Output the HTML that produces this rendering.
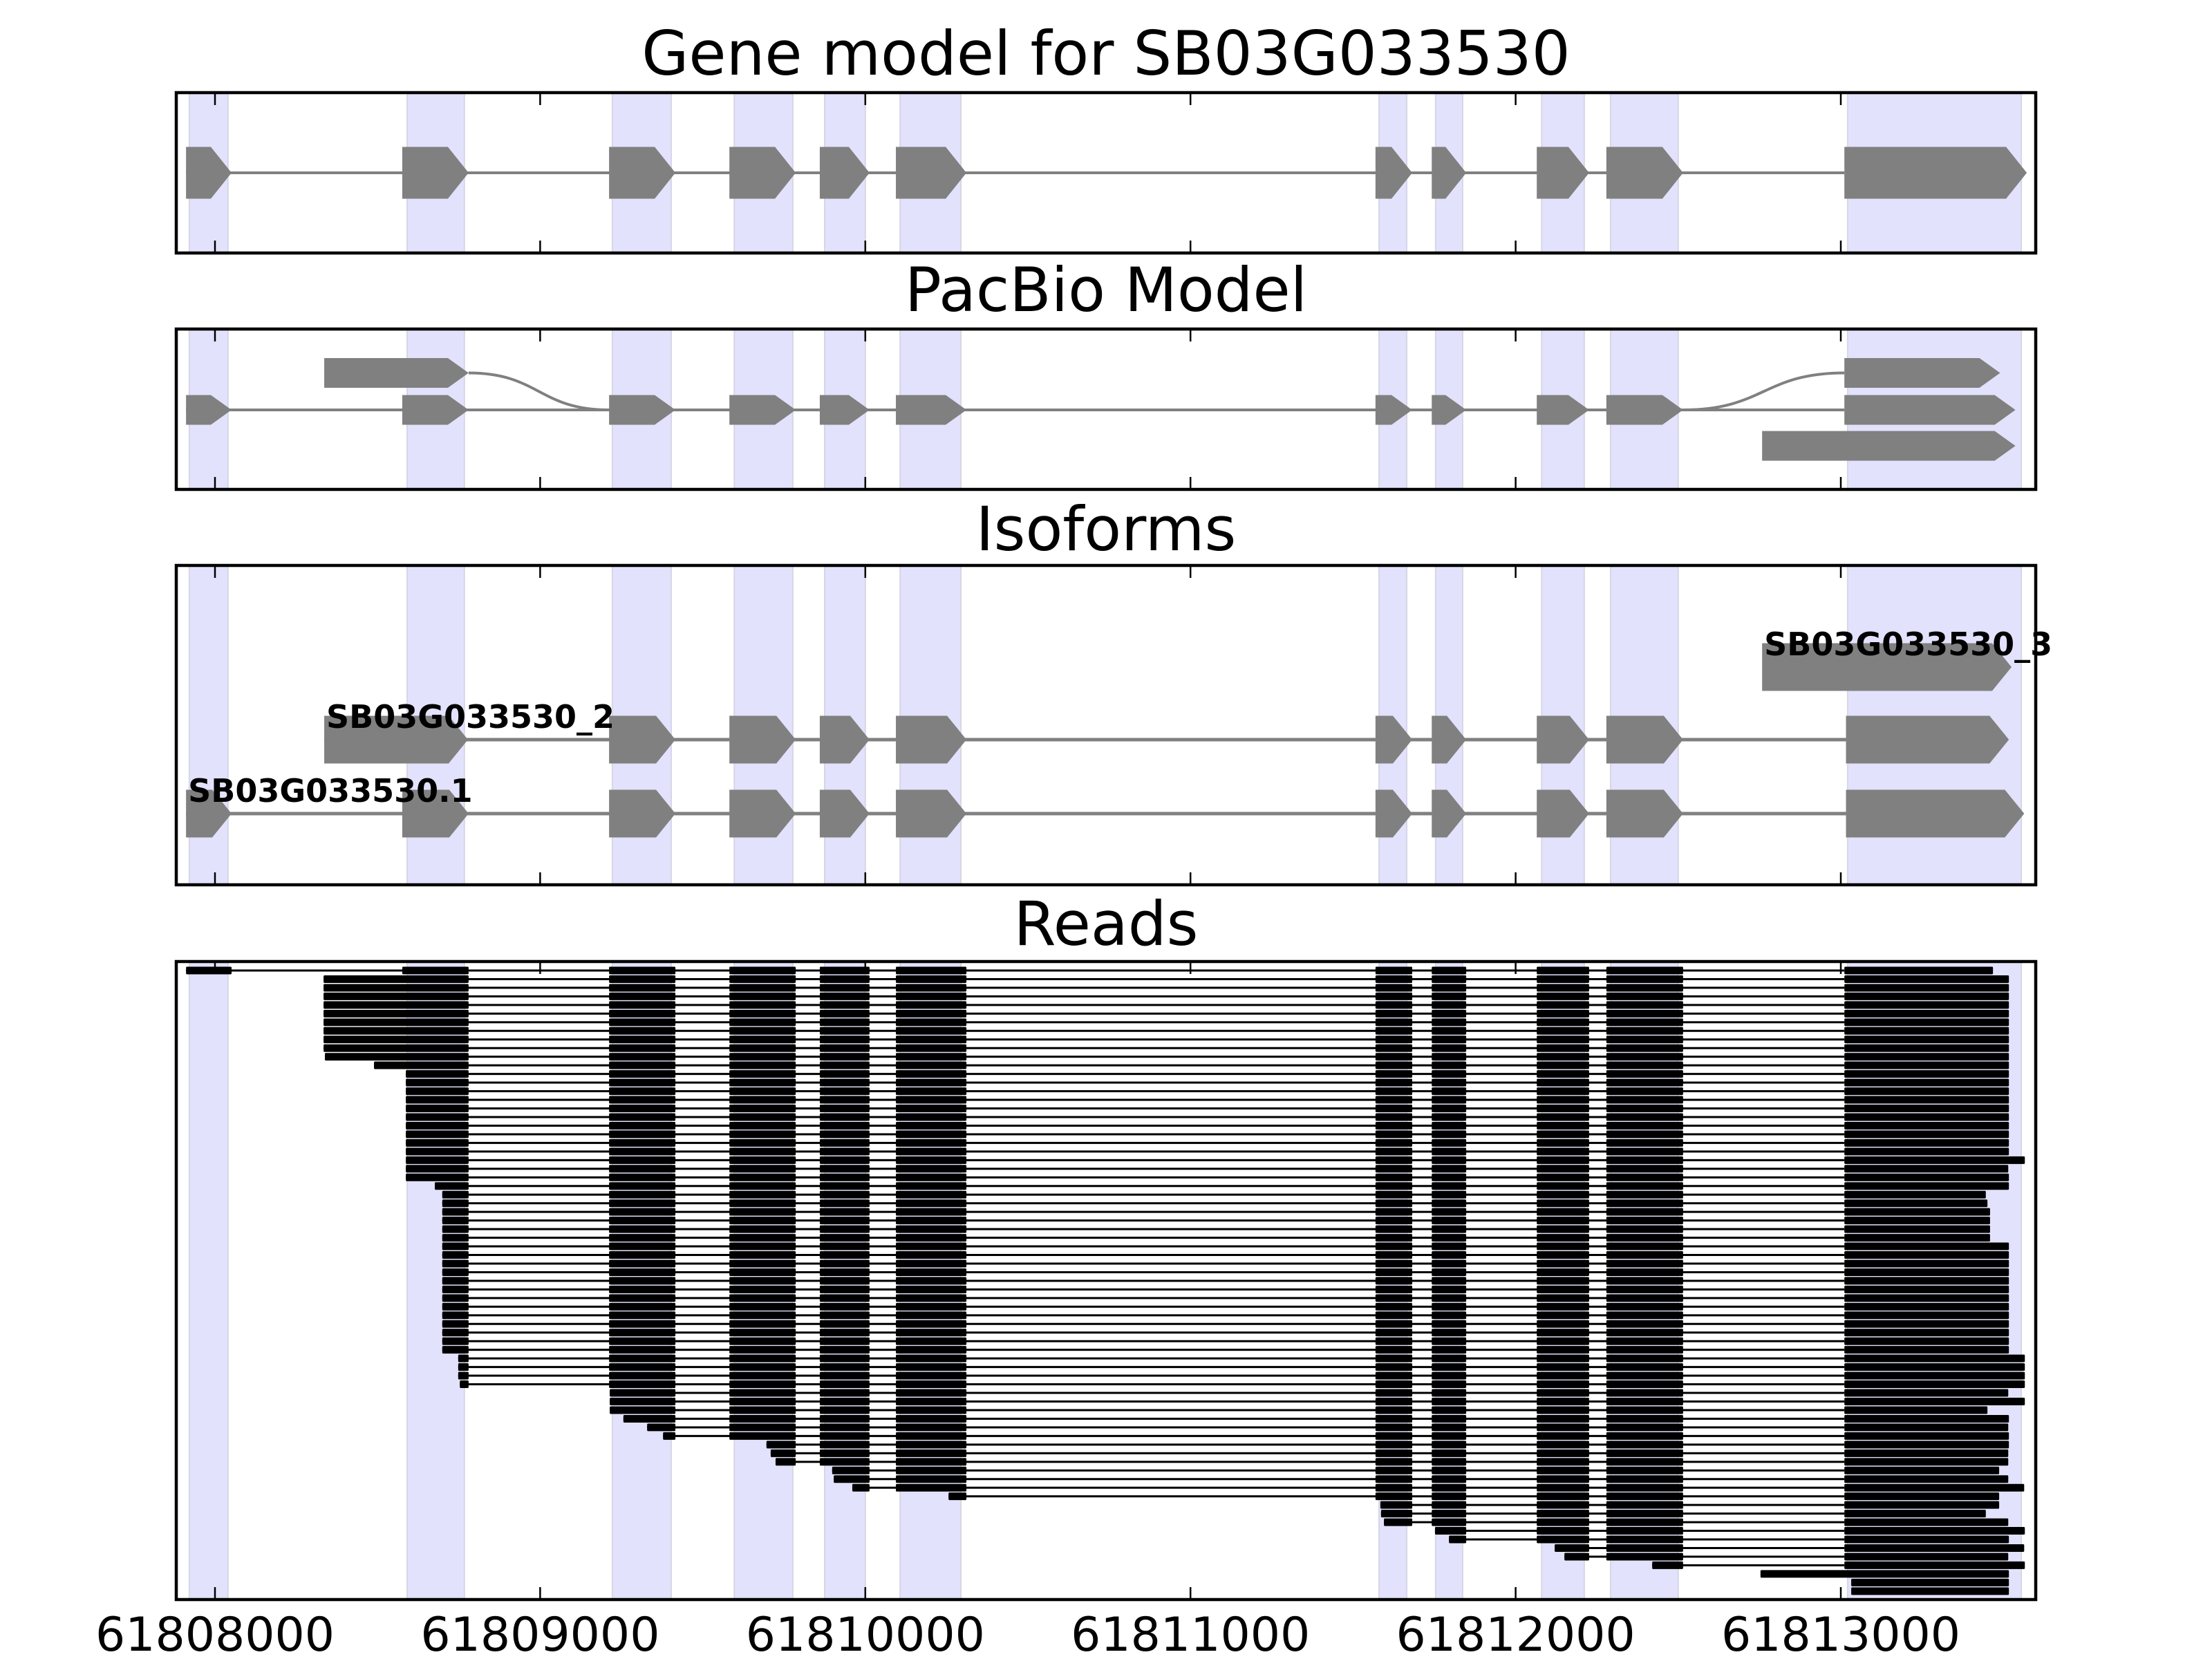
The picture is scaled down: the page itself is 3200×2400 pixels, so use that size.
<!DOCTYPE html>
<html><head><meta charset="utf-8"><style>
html,body{margin:0;padding:0;background:#fff;}
svg{display:block;}
</style></head><body>
<svg id="chart" xmlns="http://www.w3.org/2000/svg" width="3200" height="2400" viewBox="0 0 3200 2400" font-family="'DejaVu Sans','Liberation Sans',sans-serif">
<rect x="0" y="0" width="3200" height="2400" fill="#fff"/>
</svg>
<script>
// ---- data (genomic coordinates, bp) ----
const tickValues = [61808000, 61809000, 61810000, 61811000, 61812000, 61813000];
const tickLabels = ["61808000","61809000","61810000","61811000","61812000","61813000"];
const exonStarts = [61807911,61808576,61809212,61809582,61809860,61810094,61811569,61811742,61812065,61812279,61813011];
const exonEnds   = [61808051,61808780,61809416,61809786,61810013,61810311,61811682,61811848,61812226,61812515,61813572];
const bandStarts = [61807921,61808591,61809222,61809597,61809875,61810107,61811580,61811754,61812080,61812292,61813021];
const bandEnds   = [61808040,61808767,61809403,61809777,61810000,61810294,61811665,61811837,61812211,61812500,61813555];
// PacBio model
const pbTopStart = 61808336, pbTopEnd = 61808780;
const pbMidLastEnd = 61813537, pbTopRightEnd = 61813490;
const pbBotStart = 61812758, pbBotEnd = 61813537;
// Isoforms
const isoNames = ["SB03G033530.1","SB03G033530_2","SB03G033530_3"];
const iso1Starts = [61807911,61808576,61809212,61809582,61809860,61810094,61811569,61811742,61812065,61812279,61813016];
const iso1Ends   = [61808051,61808780,61809416,61809786,61810013,61810311,61811682,61811848,61812226,61812515,61813564];
const iso2Starts = [61808336,61809212,61809582,61809860,61810094,61811569,61811742,61812065,61812279,61813016];
const iso2Ends   = [61808778,61809416,61809786,61810013,61810311,61811682,61811848,61812226,61812515,61813517];
const iso3Starts = [61812758];
const iso3Ends   = [61813525];
// Reads
const readStarts = [61807911,
 61808334,61808334,61808334,61808334,61808334,61808334,61808334,61808334,61808334,61808338,
 61808489,
 61808587,61808587,61808587,61808587,61808587,61808587,61808587,61808587,61808587,61808587,61808587,61808587,61808587,
 61808676,
 61808699,61808699,61808699,61808699,61808699,61808699,61808699,61808699,61808699,61808699,61808699,61808699,61808699,61808699,61808699,61808699,61808699,61808699,61808699,
 61808748,61808748,61808748,61808753,
 61809214,61809214,61809214,61809256,61809329,61809378,
 61809696,61809709,61809724,
 61809898,61809903,61809960,
 61810256,
 61811584,61811586,61811595,
 61811752,61811795,
 61812120,61812150,
 61812420,
 61812753,
 61813032,61813032];
const readEnds = [61813468,
 61813517,61813517,61813517,61813517,61813517,61813517,61813517,61813517,61813517,61813517,
 61813517,61813517,61813517,61813517,61813517,61813517,61813517,61813517,61813517,61813517,61813517,
 61813566,61813515,61813517,61813517,
 61813446,61813451,61813459,61813459,61813459,61813459,
 61813517,61813517,61813517,61813517,61813517,61813517,61813517,61813517,61813517,61813517,61813517,61813517,61813517,
 61813566,61813566,61813566,61813566,
 61813515,61813566,61813451,61813517,61813515,61813517,61813517,61813515,61813515,61813487,61813515,61813564,
 61813487,61813487,61813446,61813515,61813566,61813517,61813564,61813515,61813566,61813517,61813517,61813517];

// ---- scales ----
const NS = "http://www.w3.org/2000/svg";
const svg = document.getElementById("chart");
const X0 = 311, BP0 = 61808000, K = 0.4704;
function xs(bp){ return X0 + (bp - BP0) * K; }
const AX_L = 255, AX_R = 2945;
const panels = [
  {top:134, bot:366, title:"Gene model for SB03G033530", tb:108, name:"gene-model-panel"},
  {top:476, bot:708, title:"PacBio Model", tb:450, name:"pacbio-panel"},
  {top:818, bot:1280, title:"Isoforms", tb:796, name:"isoforms-panel"},
  {top:1391, bot:2314, title:"Reads", tb:1367, name:"reads-panel"}
];
const GRAY = "#808080";
function mk(tag, attrs, parent){
  const e = document.createElementNS(NS, tag);
  for (const k in attrs) e.setAttribute(k, attrs[k]);
  (parent || svg).appendChild(e);
  return e;
}
function arrow(g, s, e, yc, h, head){
  const x1 = xs(s), x2 = xs(e);
  let hd = Math.min(head, (x2 - x1) * 0.6);
  const pts = [[x1,yc-h/2],[x2-hd,yc-h/2],[x2,yc],[x2-hd,yc+h/2],[x1,yc+h/2]];
  const p = mk("polygon", {points: pts.map(q=>q.join(",")).join(" "), fill: GRAY}, g);
  
  
  return p;
}
function line(g, x1, x2, y, w, col){
  const l = mk("line", {x1:x1, x2:x2, y1:y, y2:y, stroke:col, "stroke-width":w}, g);
  return l;
}

// ---- panels: bands ----
panels.forEach(function(P, pi){
  const g = mk("g", {});
  
  
  P.g = g;
  for (let i = 0; i < bandStarts.length; i++){
    const b = mk("rect", {x: xs(bandStarts[i]), y: P.top, width: xs(bandEnds[i]) - xs(bandStarts[i]), height: P.bot - P.top, fill: "#e2e2fc", stroke: "#d6d6e6", "stroke-width": 2}, g);
    
    
  }
  const t = mk("text", {x: (AX_L + AX_R) / 2, y: P.tb, "text-anchor": "middle", "font-size": 88, fill: "#000"}, svg);
  t.textContent = P.title;
  
  
});

// ---- gene model ----
(function(){
  const g = panels[0].g, yc = 250;
  line(g, xs(exonStarts[0]), xs(exonStarts[exonStarts.length-1]), yc, 4, GRAY);
  for (let i = 0; i < exonStarts.length; i++) arrow(g, exonStarts[i], exonEnds[i], yc, 75, 30);
})();

// ---- PacBio ----
(function(){
  const g = panels[1].g;
  const yT = 539.5, yM = 593, yB = 645, h = 43, hd = 30;
  line(g, xs(exonStarts[0]), xs(exonStarts[10]), yM, 4, GRAY);
  for (let i = 0; i < 10; i++) arrow(g, exonStarts[i], exonEnds[i], yM, h, hd);
  arrow(g, exonStarts[10], pbMidLastEnd, yM, h, hd);
  arrow(g, pbTopStart, pbTopEnd, yT, h, hd);
  const a = xs(pbTopEnd), b = xs(exonStarts[2]);
  const c1 = mk("path", {d: "M"+a+","+yT+" C"+(a+(b-a)*0.5)+","+yT+" "+(a+(b-a)*0.5)+","+yM+" "+b+","+yM, fill:"none", stroke:GRAY, "stroke-width":4}, g);
  
  
  const a2 = xs(exonEnds[9]), b2 = xs(exonStarts[10]);
  const c2 = mk("path", {d: "M"+a2+","+yM+" C"+(a2+(b2-a2)*0.5)+","+yM+" "+(a2+(b2-a2)*0.5)+","+yT+" "+b2+","+yT, fill:"none", stroke:GRAY, "stroke-width":4}, g);
  
  
  arrow(g, exonStarts[10], pbTopRightEnd, yT, h, hd);
  arrow(g, pbBotStart, pbBotEnd, yB, h, hd);
})();

// ---- Isoforms ----
(function(){
  const g = panels[2].g;
  const rows = [[iso1Starts, iso1Ends, 1177], [iso2Starts, iso2Ends, 1070], [iso3Starts, iso3Ends, 965]];
  rows.forEach(function(r, ri){
    const S = r[0], E = r[1], yc = r[2];
    if (S.length > 1) line(g, xs(S[0]), xs(S[S.length-1]), yc, 5, GRAY);
    for (let i = 0; i < S.length; i++) arrow(g, S[i], E[i], yc, 69, 28);
  });
  rows.forEach(function(r, ri){
    const t = mk("text", {x: xs(r[0][0]) + 3, y: r[2] - 17, "font-size": 46, "font-weight": "bold", fill: "#000"}, svg);
    t.textContent = isoNames[ri];
    
    
  });
})();

// ---- Reads ----
(function(){
  const g = panels[3].g;
  const y0 = 1404, dy = 12.47, bh = 11, lh = 3;
  const last = exonStarts.length - 1;
  for (let i = 0; i < readStarts.length; i++){
    const s = readStarts[i], e = readEnds[i], y = y0 + dy * i;
    const rg = mk("g", {}, g);
    
    
    const blocks = [];
    let k = 0;
    while (k < last && exonEnds[k] <= s) k++;
    if (k < last){
      blocks.push([s, exonEnds[k]]);
      for (let j = k + 1; j < last; j++) blocks.push([exonStarts[j], exonEnds[j]]);
      blocks.push([exonStarts[last], e]);
    } else {
      blocks.push([s, e]);
    }
    if (blocks.length > 1){
      const l = mk("rect", {x: xs(blocks[0][0]), y: y - lh/2, width: xs(blocks[blocks.length-1][0]) - xs(blocks[0][0]), height: lh, fill: "#000"}, rg);
      
      
    }
    blocks.forEach(function(bk){
      const r = mk("rect", {x: xs(bk[0]), y: y - bh/2, width: xs(bk[1]) - xs(bk[0]), height: bh, fill: "#000", rx: 1.5}, rg);
      
      
    });
  }
})();

// ---- ticks, frames, labels ----
panels.forEach(function(P){
  tickValues.forEach(function(v){
    const x = xs(v);
    const t1 = mk("line", {x1:x, x2:x, y1:P.top, y2:P.top+18, stroke:"#000", "stroke-width":2.5});
    
    
    const t2 = mk("line", {x1:x, x2:x, y1:P.bot, y2:P.bot-18, stroke:"#000", "stroke-width":2.5});
    
    
  });
  const f = mk("rect", {x: AX_L, y: P.top, width: AX_R - AX_L, height: P.bot - P.top, fill: "none", stroke: "#000", "stroke-width": 4.5});
  
  
});
tickValues.forEach(function(v, i){
  const t = mk("text", {x: xs(v), y: 2388, "text-anchor": "middle", "font-size": 68, fill: "#000"});
  t.textContent = tickLabels[i];
  
  
});
</script>
</body></html>
